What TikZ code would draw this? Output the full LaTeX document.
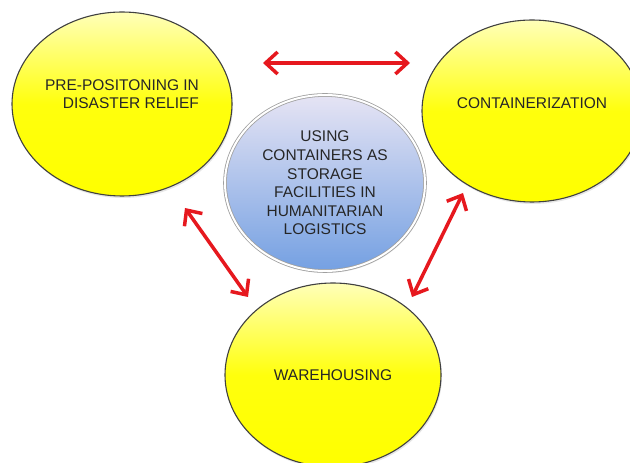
\documentclass[tikz,border=0pt]{standalone}
\usepackage{fontspec}
\setmainfont{Liberation Sans}
\usepackage{tikz}
\usetikzlibrary{arrows.meta,shapes.geometric,shadows}

\definecolor{arrowred}{RGB}{230,24,30}
\definecolor{inkgray}{RGB}{38,38,38}
\definecolor{paleyellow}{RGB}{255,255,185}
\definecolor{paleblue}{RGB}{230,228,244}
\definecolor{deepblue}{RGB}{116,160,226}

\begin{document}
\begin{tikzpicture}[
  x=1pt, y=1pt,
  bubble/.style={ellipse, draw=black!75, line width=1.1pt, inner sep=0pt,
    top color=paleyellow, bottom color=yellow, middle color=yellow!95!white,
    text=inkgray, font=\fontsize{15.5}{18.6}\selectfont,
    drop shadow={opacity=0.2, shadow xshift=1pt, shadow yshift=-2pt}},
  hub/.style={ellipse, draw=gray!75, line width=0.8pt, double=white,
    double distance=2pt, inner sep=0pt, align=center,
    top color=paleblue, bottom color=deepblue,
    text=inkgray, font=\fontsize{15.5}{18.6}\selectfont,
    drop shadow={opacity=0.2, shadow xshift=1pt, shadow yshift=-2pt}},
  arr/.style={{Straight Barb[length=12pt,width=22pt]}-{Straight Barb[length=12pt,width=22pt]},
    draw=arrowred, line width=3.5pt}
]
\useasboundingbox (0,0) rectangle (630,463);

% the four bubbles (extra depth lifts the text a little)
\node[bubble, align=right, text depth=20pt, minimum width=220pt, minimum height=184pt]
  (prepos) at (122,359) {PRE-POSITONING IN\\DISASTER RELIEF};
\node[bubble, text depth=15pt, minimum width=220pt, minimum height=182pt]
  (contain) at (532,352) {CONTAINERIZATION};
\node[bubble, minimum width=216pt, minimum height=184pt]
  (wareh) at (333,88) {WAREHOUSING};
\node[hub, minimum width=200pt, minimum height=176pt]
  (hub) at (325,280) {USING\\CONTAINERS AS\\STORAGE\\FACILITIES IN\\HUMANITARIAN\\LOGISTICS};

% arrow ends
\coordinate (topL) at (263,400);
\coordinate (topR) at (410,400);
\coordinate (leftU) at (185,255);
\coordinate (leftD) at (248,166);
\coordinate (rightU) at (463,270);
\coordinate (rightD) at (412,166);

\draw[arr] (topL) -- (topR);
\draw[arr] (leftU) -- (leftD);
\draw[arr] (rightU) -- (rightD);
\end{tikzpicture}
\end{document}
